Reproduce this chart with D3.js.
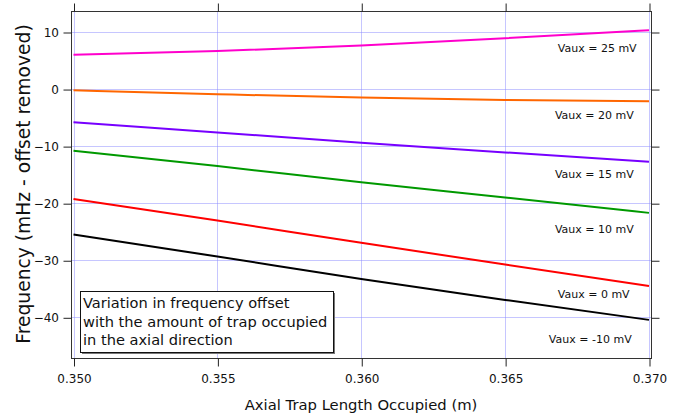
<!DOCTYPE html>
<html>
<head>
<meta charset="utf-8">
<script src="https://cdn.jsdelivr.net/npm/d3@7"></script>
<style>
html,body{margin:0;padding:0;background:#fff;}
svg{display:block;font-family:"DejaVu Sans",sans-serif;}
</style>
</head>
<body>
<svg id="chart" width="691" height="417"></svg>
<script>
// ---- data ----
const xValues = [0.350, 0.355, 0.360, 0.365, 0.370];
const seriesNames = ["Vaux = 25 mV", "Vaux = 20 mV", "Vaux = 15 mV", "Vaux = 10 mV", "Vaux = 0 mV", "Vaux = -10 mV"];
const vaux25  = [6.0, 6.65, 7.65, 8.9, 10.3];
const vaux20  = [-0.2, -0.9, -1.5, -1.9, -2.15];
const vaux15  = [-5.8, -7.6, -9.4, -11.1, -12.75];
const vaux10  = [-10.8, -13.5, -16.35, -19.0, -21.7];
const vaux0   = [-19.25, -23.05, -26.95, -30.75, -34.5];
const vauxM10 = [-25.5, -29.35, -33.3, -36.95, -40.45];
const seriesValues = [vaux25, vaux20, vaux15, vaux10, vaux0, vauxM10];
const seriesColors = ["#ff00cc", "#ff6600", "#7700ff", "#009900", "#ff0000", "#000000"];
// label anchor in data coordinates (x in m, y in mHz)
const labelX = [0.36683, 0.36673, 0.36673, 0.36673, 0.36683, 0.36652];
const labelY = [6.54, -5.26, -15.67, -25.3, -36.7, -44.56];
const xTicks = [0.350, 0.355, 0.360, 0.365, 0.370];
const yTicks = [10, 0, -10, -20, -30, -40];
const xTitle = "Axial Trap Length Occupied (m)";
const yTitle = "Frequency (mHz - offset removed)";
const noteLines = ["Variation in frequency offset", "with the amount of trap occupied", "in the axial direction"];

// ---- layout ----
const svg = d3.select("#chart");
const frame = {left: 71.5, right: 651.5, top: 11.5, bottom: 358.5};
const x = d3.scaleLinear().domain([0.350, 0.370]).range([73.5, 649]);
const y = d3.scaleLinear().domain([-40, 10]).range([317.3, 32]);

// grid
const grid = svg.append("g").attr("stroke", "#8c8cff").attr("stroke-width", 1).attr("stroke-dasharray", "1,1");
xTicks.forEach(t => {
  const px = Math.round(x(t)) + 0.5;
  grid.append("line").attr("x1", px).attr("x2", px).attr("y1", frame.top).attr("y2", frame.bottom);
});
yTicks.forEach(t => {
  const py = Math.round(y(t)) + 0.5;
  grid.append("line").attr("x1", frame.left).attr("x2", frame.right).attr("y1", py).attr("y2", py);
});

// frame
svg.append("rect").attr("x", frame.left).attr("y", frame.top)
  .attr("width", frame.right - frame.left).attr("height", frame.bottom - frame.top)
  .attr("fill", "none").attr("stroke", "#333").attr("stroke-width", 1);

// bottom axis
const xAxis = d3.axisBottom(x).tickValues(xTicks).tickFormat(d3.format(".3f")).tickSize(8).tickSizeOuter(0);
const gx = svg.append("g").attr("transform", `translate(0.5,${frame.bottom})`).call(xAxis);
gx.select(".domain").remove();
gx.selectAll("line").attr("stroke", "#222");
gx.selectAll("text").attr("font-size", 12).attr("font-family", "DejaVu Sans").attr("fill", "#111").attr("dy", "0.71em").attr("y", 15.5);

// top axis (mirror ticks, outward)
const xAxisTop = d3.axisTop(x).tickValues(xTicks).tickFormat("").tickSize(8).tickSizeOuter(0);
const gxt = svg.append("g").attr("transform", `translate(0.5,${frame.top})`).call(xAxisTop);
gxt.select(".domain").remove();
gxt.selectAll("line").attr("stroke", "#222");

// left axis
const yAxis = d3.axisLeft(y).tickValues(yTicks).tickSize(8).tickSizeOuter(0);
const gy = svg.append("g").attr("transform", `translate(${frame.left},0.5)`).call(yAxis);
gy.select(".domain").remove();
gy.selectAll("line").attr("stroke", "#222");
gy.selectAll("text").attr("font-size", 12).attr("font-family", "DejaVu Sans").attr("fill", "#111").attr("x", -12.5);

// right axis mirror ticks
const yAxisR = d3.axisRight(y).tickValues(yTicks).tickFormat("").tickSize(8).tickSizeOuter(0);
const gyr = svg.append("g").attr("transform", `translate(${frame.right},0.5)`).call(yAxisR);
gyr.select(".domain").remove();
gyr.selectAll("line").attr("stroke", "#222");

// lines
const line = d3.line().x((d, i) => x(xValues[i])).y(d => y(d)).curve(d3.curveMonotoneX);
seriesValues.forEach((vals, k) => {
  svg.append("path").datum(vals).attr("d", line)
    .attr("fill", "none").attr("stroke", seriesColors[k]).attr("stroke-width", 2);
});

// series labels
seriesNames.forEach((name, k) => {
  svg.append("text").attr("x", x(labelX[k])).attr("y", y(labelY[k]))
    .attr("font-size", 11).attr("fill", "#111").text(name);
});

// titles
svg.append("text").attr("x", 361).attr("y", 410).attr("text-anchor", "middle")
  .attr("font-size", 14.8).attr("fill", "#111").text(xTitle);
svg.append("text").attr("transform", "translate(30,184) rotate(-90)").attr("text-anchor", "middle")
  .attr("font-size", 18.7).attr("fill", "#111").text(yTitle);

// note box
const box = {x: 80.5, y: 291.5, w: 253, h: 61};
svg.append("rect").attr("x", box.x + 1.5).attr("y", box.y + 1.5).attr("width", box.w).attr("height", box.h)
  .attr("fill", "#777");
svg.append("rect").attr("x", box.x).attr("y", box.y).attr("width", box.w).attr("height", box.h)
  .attr("fill", "#fff").attr("stroke", "#111").attr("stroke-width", 1);
noteLines.forEach((t, i) => {
  svg.append("text").attr("x", 83).attr("y", 308.3 + i * 18.4)
    .attr("font-size", 14.6).attr("fill", "#111").text(t);
});
</script>
</body>
</html>
